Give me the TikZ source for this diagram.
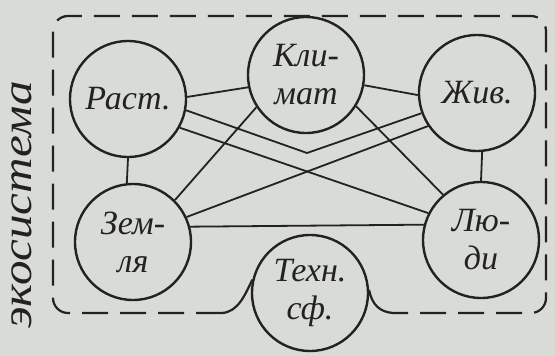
\documentclass[tikz,border=0pt]{standalone}
\usepackage{fontspec}
\setmainfont{Liberation Serif}
\definecolor{paper}{RGB}{216,219,214}
\definecolor{inkc}{RGB}{34,34,34}
\begin{document}
\begin{tikzpicture}[x=1pt,y=-1pt,
  circ/.style={circle,draw=inkc,line width=2.4pt,minimum size=116pt,inner sep=0pt,
    font=\itshape\fontsize{34}{38}\selectfont,align=center,text=inkc},
  conn/.style={draw=inkc,line width=1.8pt},
  frameline/.style={draw=inkc,line width=2.2pt,dash pattern=on 26pt off 12pt},
  frameend/.style={draw=inkc,line width=2.2pt}]
\fill[paper] (0,0) rectangle (555,356);
\useasboundingbox (0,0) rectangle (555,356);
\node[circ] (rast) at (128,99) {Раст.};
\node[circ] (klim) at (306,75) {Кли-\\мат};
\node[circ] (zhiv) at (477,93) {Жив.};
\node[circ] (zem) at (133,242) {Зем-\\ля};
\node[circ] (ljudi) at (481,240) {Лю-\\ди};
\node[circ] (tekh) at (310,293) {Техн.\\сф.};
\node[rotate=90,xscale=1.17,font=\itshape\fontsize{42}{42}\selectfont,text=inkc] (eko) at (22,205) {экосистема};
\coordinate (vpt) at (307,153);
\coordinate (fl) at (222,313);
\coordinate (fr) at (393,313);
% connectors
\draw[conn] (rast.2) -- (klim.192);
\draw[conn] (klim.-10) -- (zhiv.182);
\draw[conn] (rast.-11) -- (vpt) -- (zhiv.200);
\draw[conn] (rast.-29) -- (ljudi.153);
\draw[conn] (zem.25) -- (zhiv.214);
\draw[conn] (klim.213) -- (zem.45);
\draw[conn] (klim.-32) -- (ljudi.130);
\draw[conn] (zem.15) -- (ljudi.165);
\draw[conn] (rast.-90) -- (zem.96);
\draw[conn] (zhiv.-85) -- (ljudi.90);
% frame
\draw[frameline,rounded corners=15pt] (fl) -- (53,313) -- (53,16) -- (546,16) -- (546,313) -- (fr);
\draw[frameend] (fl) .. controls (238,312) and (245,295) .. (tekh.167);
\draw[frameend] (tekh.3) .. controls (372,305) and (380,312) .. (fr);
\end{tikzpicture}
\end{document}
